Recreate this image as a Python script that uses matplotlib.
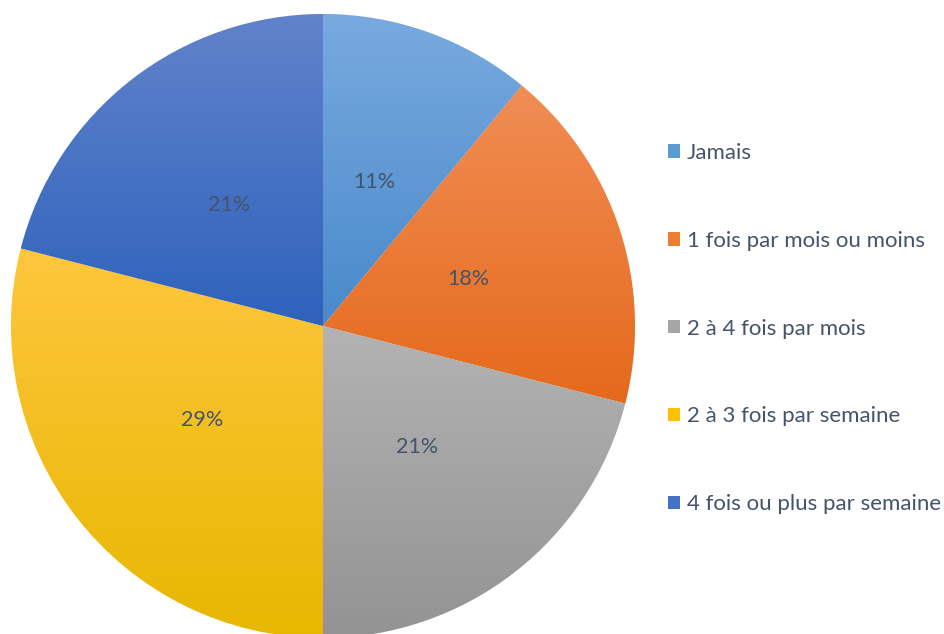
import numpy as np
import matplotlib
matplotlib.use("Agg")
import matplotlib.pyplot as plt
from matplotlib.colors import LinearSegmentedColormap
from matplotlib.patches import Patch

categories = ["Jamais", "1 fois par mois ou moins", "2 à 4 fois par mois",
              "2 à 3 fois par semaine", "4 fois ou plus par semaine"]
values = [11, 18, 21, 29, 21]
top_colors = ["#78AADF", "#F18D55", "#B3B3B3", "#FFC63E", "#6283CB"]
bottom_colors = ["#4A89CB", "#E5691B", "#939393", "#E7B700", "#2E62BC"]
mid_colors = ["#5B9BD5", "#ED7D31", "#A5A5A5", "#FFC000", "#4472C4"]

text_color = "#44546A"
plt.rcParams['font.family'] = ['Lato', 'DejaVu Sans']

W, H = 945, 634
fig = plt.figure(figsize=(W / 100, H / 100), dpi=100)
cx, cy, R = 323, 326, 312
ax = fig.add_axes([(cx - R) / W, (H - cy - R) / H, 2 * R / W, 2 * R / H])

wedges, texts, autotexts = ax.pie(values, startangle=90, counterclock=False,
                                  colors=mid_colors, autopct='%1.0f%%',
                                  pctdistance=0.49, radius=1,
                                  textprops=dict(color=text_color, fontsize=15.5),
                                  wedgeprops=dict(linewidth=0.6, edgecolor="white"))
ax.set_xlim(-1, 1)
ax.set_ylim(-1, 1)
ax.set_aspect('equal')

grad = np.linspace(0, 1, 256).reshape(-1, 1)
for w, tc, bc in zip(wedges, top_colors, bottom_colors):
    path = w.get_path()
    verts = w.get_transform().transform(path.vertices)
    verts = ax.transData.inverted().transform(verts)
    x0, x1 = verts[:, 0].min(), verts[:, 0].max()
    y0, y1 = verts[:, 1].min(), verts[:, 1].max()
    cmap = LinearSegmentedColormap.from_list("g", [tc, bc])
    im = ax.imshow(grad, cmap=cmap, extent=[x0, x1, y0, y1], aspect='auto',
                   origin='upper', zorder=w.get_zorder() + 0.1)
    im.set_clip_path(w)
for t in autotexts:
    t.set_zorder(10)

ax.set_xlim(-1, 1)
ax.set_ylim(-1, 1)
ax.axis('off')

handles = [Patch(facecolor=c, edgecolor='none') for c in mid_colors]
leg = fig.legend(handles, categories, loc='upper left',
                 bbox_to_anchor=(668 / W, 1 - 143 / H), frameon=False,
                 fontsize=16, labelcolor=text_color, handlelength=0.55,
                 handleheight=0.55, handletextpad=0.3, labelspacing=3.05,
                 borderpad=0, borderaxespad=0)

fig.savefig("out.png", dpi=100)
